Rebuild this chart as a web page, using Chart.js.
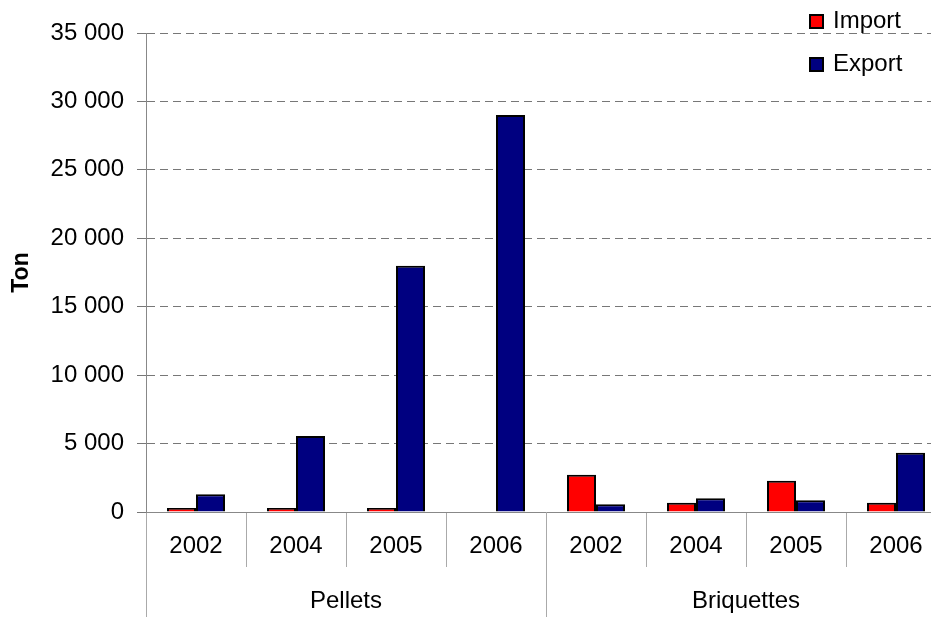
<!DOCTYPE html>
<html>
<head>
<meta charset="utf-8">
<script src="https://cdn.jsdelivr.net/npm/chart.js@4/dist/chart.umd.min.js"></script>
<style>
  html, body { margin: 0; padding: 0; background: #fff; overflow: hidden; }
  #wrap { position: relative; width: 931px; height: 617px; overflow: hidden; }
  #box { position: absolute; left: 0; top: 0; width: 960px; height: 617px; }
  .legend { position: absolute; left: 809px; font: 24px "Liberation Sans", Arial, sans-serif; color: #000; line-height: 28px; }
  .legend i { display: inline-block; width: 11px; height: 11px; border: 2px solid #000; margin-right: 9px; vertical-align: -1px; }
</style>
</head>
<body>
<div id="wrap">
  <div id="box"><canvas id="chart" width="960" height="617"></canvas></div>
  <div class="legend" style="top:6px"><i style="background:#ff0000"></i>Import</div>
  <div class="legend" style="top:49px"><i style="background:#000080"></i>Export</div>
</div>
<script>
const years = ["2002", "2004", "2005", "2006", "2002", "2004", "2005", "2006"];
const groups = ["Pellets", "Briquettes"];
const importValues = [300, 300, 300, 0, 2730, 680, 2290, 680];
const exportValues = [1300, 5550, 18000, 29000, 560, 1000, 850, 4330];
const yTicks = [0, 5000, 10000, 15000, 20000, 25000, 30000, 35000];

const font = { family: "'Liberation Sans', Arial, sans-serif", size: 24 };

const ctx = document.getElementById("chart").getContext("2d");

new Chart(ctx, {
  type: "bar",
  data: {
    labels: years,
    datasets: [
      { label: "Import", data: importValues, backgroundColor: "#ff0000", borderColor: "#000", borderWidth: 2 },
      { label: "Export", data: exportValues, backgroundColor: "#000080", borderColor: "#000", borderWidth: 2 }
    ]
  },
  options: {
    responsive: false,
    animation: false,
    layout: { padding: { top: 33, left: 0, right: 14, bottom: 0 } },
    datasets: { bar: { categoryPercentage: 0.58, barPercentage: 1 } },
    plugins: { legend: { display: false }, tooltip: { enabled: false } },
    scales: {
      x: {
        position: "bottom",
        grid: { offset: true, drawOnChartArea: false, color: "#aaa", tickLength: 55 },
        border: { color: "#888" },
        ticks: { color: "#000", font: font, padding: -35, maxRotation: 0, autoSkip: false },
        afterFit: s => { s.height = 49; }
      },
      x2: {
        type: "category",
        labels: groups,
        position: "bottom",
        grid: { offset: true, drawOnChartArea: false, color: "#aaa", tickLength: 56 },
        border: { display: false },
        ticks: { color: "#000", font: font, padding: -30, maxRotation: 0 },
        afterFit: s => { s.height = 56; }
      },
      y: {
        min: 0,
        max: 35000,
        afterBuildTicks: s => { s.ticks = yTicks.map(v => ({ value: v })); },
        grid: { color: "#777", tickLength: 9, tickBorderDash: [], tickColor: "#777" },
        border: { color: "#888", dash: [8, 5] },
        ticks: {
          color: "#000",
          font: font,
          padding: 13,
          callback: v => v.toString().replace(/\B(?=(\d{3})+(?!\d))/g, " ")
        },
        title: { display: true, text: "Ton", color: "#000", font: { family: font.family, size: 23, weight: "bold" }, padding: { top: 8 } },
        afterFit: s => { s.width = 146; }
      }
    }
  }
});
</script>
</body>
</html>
